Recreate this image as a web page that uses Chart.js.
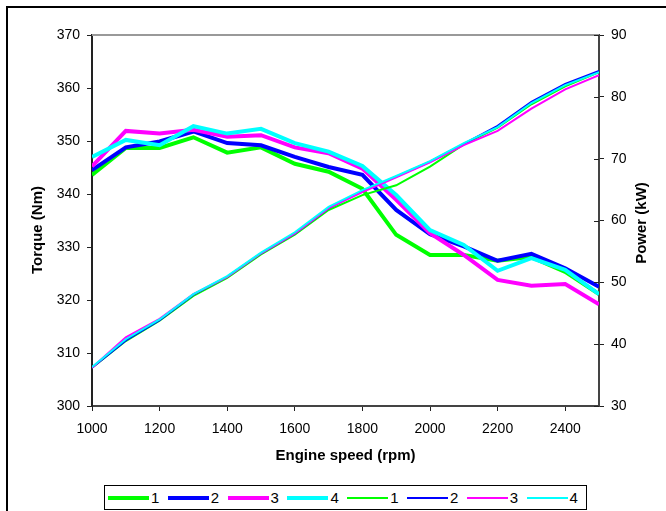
<!DOCTYPE html>
<html>
<head>
<meta charset="utf-8">
<script src="https://cdn.jsdelivr.net/npm/chart.js@4"></script>
<style>
  html, body { margin: 0; padding: 0; width: 666px; height: 511px; overflow: hidden; background: #fff;
    font-family: "Liberation Sans", Arial, sans-serif; }
  #frame { position: absolute; left: 6px; top: 6px; width: 700px; height: 600px; border: 2px solid #000; }
  #wrap { position: absolute; left: 0; top: 0; width: 666px; height: 511px; }
  #legend { position: absolute; left: 104px; top: 485px; width: 483px; height: 25px; border: 1px solid #000;
    box-sizing: border-box; display: flex; align-items: center; padding-left: 3px; font-size: 15px; background: #fff; }
  .item { flex: none; width: 59.8px; display: flex; align-items: center; }
  .swatch { width: 41px; margin-right: 2px; }
</style>
</head>
<body>
<div id="frame"></div>
<div id="wrap"><canvas id="engineChart" width="666" height="511"></canvas></div>
<div id="legend"></div>
<script>
// engine speed samples (rpm)
const rpm = [1000, 1100, 1200, 1300, 1400, 1500, 1600, 1700, 1800, 1900, 2000, 2100, 2200, 2300, 2400, 2500];

// torque, Nm
const torque1 = [343.6, 348.7, 348.7, 350.7, 347.8, 348.8, 345.7, 344.2, 341.0, 332.3, 328.5, 328.5, 327.4, 328.1, 325.3, 321.1];
const torque2 = [344.5, 348.8, 349.9, 351.8, 349.6, 349.2, 347.0, 345.1, 343.6, 337.0, 332.4, 330.1, 327.4, 328.7, 326.0, 322.5];
const torque3 = [345.2, 351.9, 351.4, 352.1, 350.8, 351.1, 348.8, 347.7, 344.8, 338.9, 332.6, 328.5, 323.8, 322.7, 323.0, 319.2];
const torque4 = [347.0, 350.2, 349.2, 352.8, 351.4, 352.3, 349.6, 348.0, 345.3, 339.8, 333.2, 330.4, 325.5, 327.9, 325.7, 321.1];

// power, kW
const power1 = [36.2, 40.5, 43.8, 47.8, 50.7, 54.5, 57.7, 61.7, 64.1, 65.7, 68.7, 72.3, 75.0, 78.8, 81.7, 84.0];
const power2 = [36.2, 40.6, 43.9, 48.0, 50.9, 54.7, 57.9, 62.0, 64.8, 67.1, 69.5, 72.4, 75.3, 79.2, 82.1, 84.2];
const power3 = [36.2, 41.1, 44.1, 48.1, 50.9, 54.7, 57.9, 62.0, 64.6, 67.0, 69.4, 72.2, 74.5, 78.1, 81.2, 83.5];
const power4 = [36.3, 40.8, 44.0, 48.1, 51.0, 54.8, 58.1, 62.2, 64.9, 67.2, 69.6, 72.5, 75.1, 79.0, 81.9, 84.0];

const seriesNames = ['1', '2', '3', '4'];
const seriesColors = ['#00ff00', '#0000ff', '#ff00ff', '#00ffff'];

const rpmTicks = [1000, 1200, 1400, 1600, 1800, 2000, 2200, 2400];
const torqueTicks = [300, 310, 320, 330, 340, 350, 360, 370];
const powerTicks = [30, 40, 50, 60, 70, 80, 90];

const torqueTitle = 'Torque (Nm)';
const powerTitle = 'Power (kW)';
const speedTitle = 'Engine speed (rpm)';

const FONT = '"Liberation Sans", Arial, sans-serif';
Chart.defaults.font.family = FONT;
Chart.defaults.color = '#000';

const toPoints = vals => rpm.map((x, i) => ({ x: x, y: vals[i] }));

const torqueSets = [torque1, torque2, torque3, torque4].map((vals, i) => ({
    label: seriesNames[i], data: toPoints(vals), yAxisID: 'y',
    borderColor: seriesColors[i], borderWidth: 4
}));
const powerSets = [power1, power2, power3, power4].map((vals, i) => ({
    label: seriesNames[i], data: toPoints(vals), yAxisID: 'y1',
    borderColor: seriesColors[i], borderWidth: 2
}));
const datasets = torqueSets.concat(powerSets);
// later series are painted on top
datasets.forEach((ds, i) => { ds.order = datasets.length - 1 - i; });

// top frame line, inner half of power ticks, vertical axis titles
const decorations = {
    id: 'decorations',
    afterDraw(chart) {
        const { ctx, chartArea: a, scales } = chart;
        ctx.save();
        ctx.strokeStyle = '#999';
        ctx.lineWidth = 2;
        ctx.beginPath();
        ctx.moveTo(a.left, a.top);
        ctx.lineTo(a.right, a.top);
        ctx.stroke();

        ctx.strokeStyle = '#222';
        ctx.lineWidth = 1;
        scales.y1.ticks.forEach(t => {
            const y = Math.round(scales.y1.getPixelForValue(t.value)) + 0.5;
            ctx.beginPath();
            ctx.moveTo(a.right - 5, y);
            ctx.lineTo(a.right, y);
            ctx.stroke();
        });

        ctx.fillStyle = '#000';
        ctx.font = 'bold 15px ' + FONT;
        ctx.textAlign = 'center';
        ctx.textBaseline = 'middle';
        [[torqueTitle, 38, 230], [powerTitle, 642, 223]].forEach(([txt, x, y]) => {
            ctx.save();
            ctx.translate(x, y);
            ctx.rotate(-Math.PI / 2);
            ctx.fillText(txt, 0, 0);
            ctx.restore();
        });
        ctx.restore();
    }
};

const axisGrid = { drawOnChartArea: false, tickLength: 5, color: '#222', lineWidth: 1 };
const fixedTicks = list => scale => { scale.ticks = list.map(v => ({ value: v })); };
const plain = v => String(v);

const ctx = document.getElementById('engineChart').getContext('2d');
const engineChart = new Chart(ctx, {
    type: 'line',
    data: { datasets: datasets },
    options: {
        responsive: false,
        animation: false,
        layout: { padding: { top: 35, left: 0, right: 0, bottom: 0 } },
        elements: { line: { tension: 0 }, point: { radius: 0 } },
        plugins: { legend: { display: false }, tooltip: { enabled: false } },
        scales: {
            x: {
                type: 'linear', min: 1000, max: 2500,
                afterBuildTicks: fixedTicks(rpmTicks),
                afterFit: s => { s.height = 105; },
                grid: axisGrid,
                border: { color: '#444', width: 2 },
                ticks: { font: { size: 14 }, padding: 10, maxRotation: 0, autoSkip: false, callback: plain },
                title: { display: true, text: speedTitle, font: { size: 15, weight: 'bold' }, padding: { top: 0, bottom: 46 } }
            },
            y: {
                position: 'left', min: 300, max: 370,
                afterBuildTicks: fixedTicks(torqueTicks),
                afterFit: s => { s.width = 92; },
                grid: axisGrid,
                border: { color: '#222', width: 2 },
                ticks: { font: { size: 14 }, padding: 7, callback: plain }
            },
            y1: {
                position: 'right', min: 30, max: 90,
                afterBuildTicks: fixedTicks(powerTicks),
                afterFit: s => { s.width = 67; },
                grid: axisGrid,
                border: { color: '#444', width: 2 },
                ticks: { font: { size: 14 }, padding: 7, callback: plain }
            }
        }
    },
    plugins: [decorations]
});

// legend: thick torque samples, then thin power samples
const legend = document.getElementById('legend');
datasets.forEach(ds => {
    const item = document.createElement('div');
    item.className = 'item';
    const sw = document.createElement('span');
    sw.className = 'swatch';
    sw.style.borderTop = ds.borderWidth + 'px solid ' + ds.borderColor;
    const txt = document.createElement('span');
    txt.textContent = ds.label;
    item.appendChild(sw);
    item.appendChild(txt);
    legend.appendChild(item);
});
</script>
</body>
</html>
